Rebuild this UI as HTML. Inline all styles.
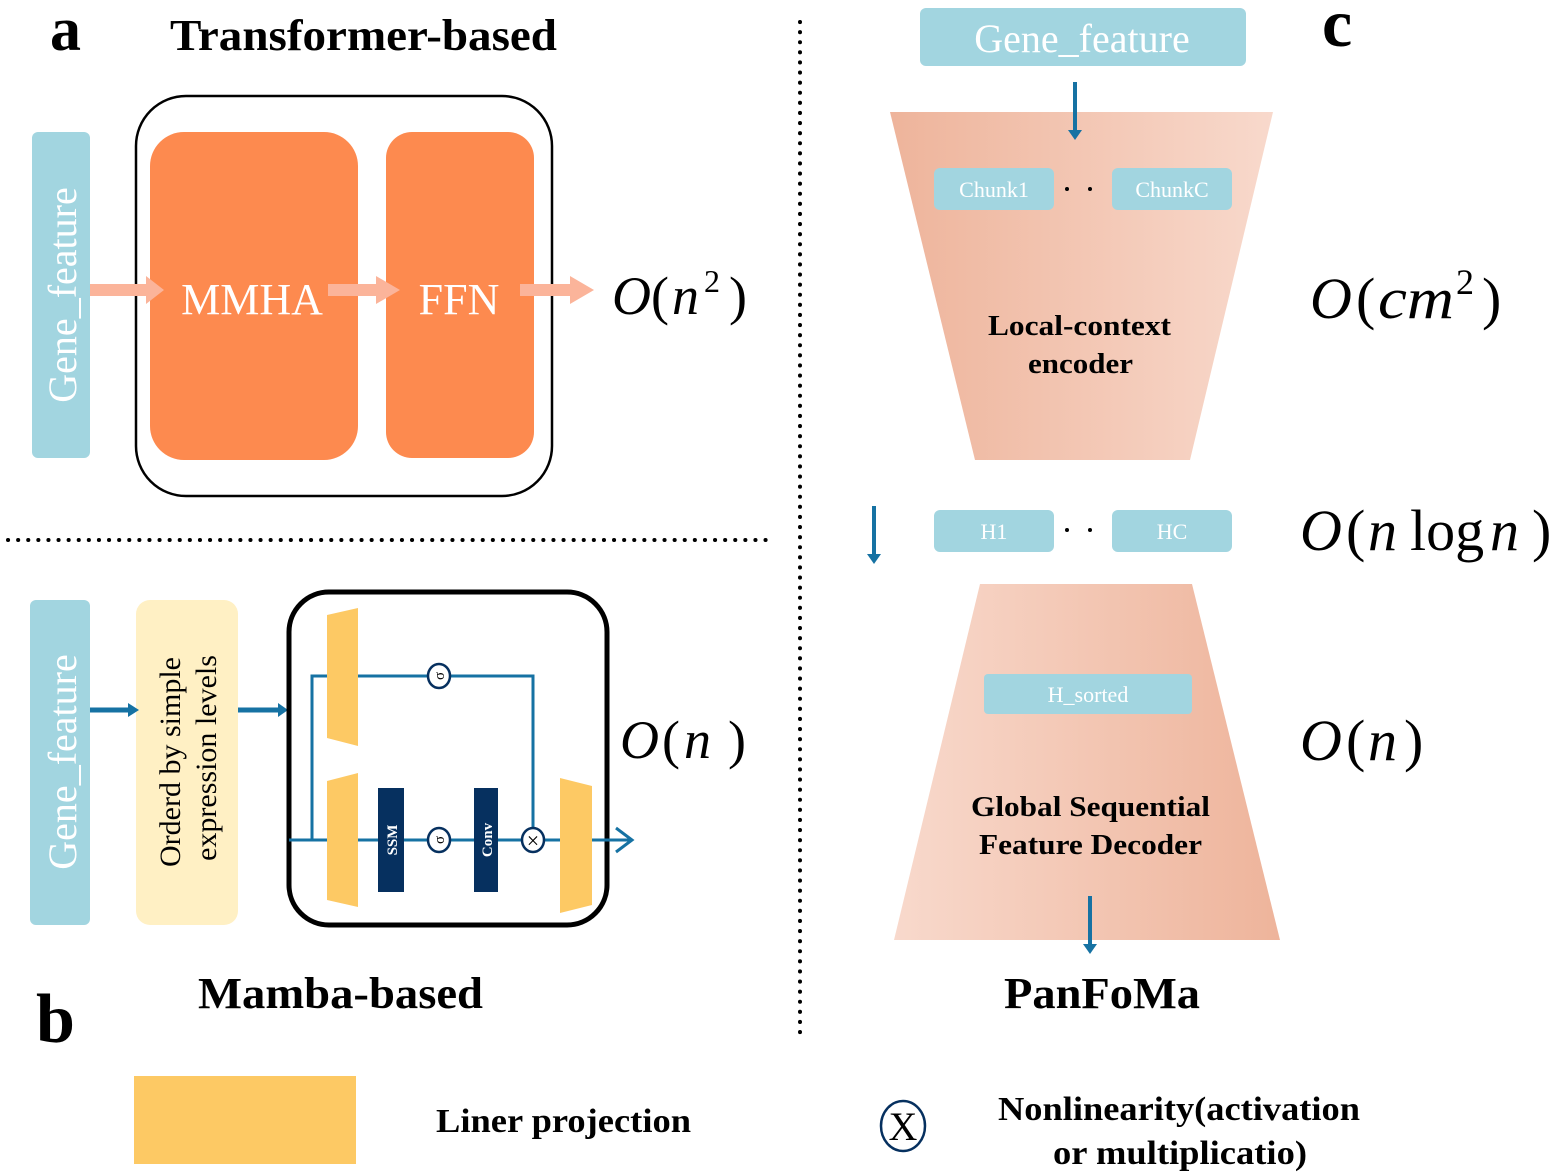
<!DOCTYPE html>
<html><head><meta charset="utf-8"><style>
html,body{margin:0;padding:0;background:#fff;width:1556px;height:1176px;overflow:hidden}
svg{display:block}
text{font-family:"Liberation Serif",serif}
</style></head><body>
<svg width="1556" height="1176" viewBox="0 0 1556 1176" xmlns="http://www.w3.org/2000/svg">
<defs>
<linearGradient id="enc" x1="0" x2="1" y1="0" y2="0"><stop offset="0" stop-color="#eeb49b"/><stop offset="1" stop-color="#f8d9cc"/></linearGradient>
<linearGradient id="dec" x1="0" x2="1" y1="0" y2="0"><stop offset="0" stop-color="#f8d9cc"/><stop offset="1" stop-color="#eeb49b"/></linearGradient>
</defs>
<line x1="800" y1="22" x2="800" y2="1035" stroke="#000" stroke-width="4" stroke-dasharray="0.1 10" stroke-linecap="round"/>
<line x1="8" y1="540" x2="770" y2="540" stroke="#000" stroke-width="4" stroke-dasharray="0.1 10" stroke-linecap="round"/>
<!-- a -->
<text x="50" y="50" font-size="62" font-weight="bold">a</text>
<text x="170" y="50" font-size="44" font-weight="bold" textLength="387" lengthAdjust="spacingAndGlyphs">Transformer-based</text>
<rect x="32" y="132" width="58" height="326" rx="6" fill="#a2d5e0"/>
<text transform="translate(76,295) rotate(-90)" font-size="40" fill="#fff" text-anchor="middle">Gene_feature</text>
<rect x="136" y="96" width="416" height="400" rx="50" fill="none" stroke="#000" stroke-width="2.5"/>
<rect x="150" y="132" width="208" height="328" rx="34" fill="#fd8a4f"/>
<rect x="386" y="132" width="148" height="326" rx="26" fill="#fd8a4f"/>
<text x="252" y="314" font-size="44" fill="#fff" text-anchor="middle">MMHA</text>
<text x="459" y="314" font-size="44" fill="#fff" text-anchor="middle">FFN</text>
<g fill="#fbb49a">
<rect x="90" y="284" width="58" height="12"/><polygon points="146,276 164,290 146,304"/>
<rect x="328" y="284" width="50" height="12"/><polygon points="376,276 400,290 376,304"/>
<rect x="520" y="284" width="52" height="12"/><polygon points="570,276 594,290 570,304"/>
</g>
<text x="612" y="314" font-size="54" font-style="italic">O</text><text x="651" y="314" font-size="54">(</text><text x="672" y="314" font-size="54" font-style="italic">n</text><text x="704" y="292" font-size="32">2</text><text x="729" y="314" font-size="54">)</text>
<!-- b -->
<rect x="30" y="600" width="60" height="325" rx="6" fill="#a2d5e0"/>
<text transform="translate(76,762) rotate(-90)" font-size="40" fill="#fff" text-anchor="middle">Gene_feature</text>
<rect x="136" y="600" width="102" height="325" rx="14" fill="#fff0c4"/>
<text transform="translate(180,762) rotate(-90)" font-size="30" text-anchor="middle">Orderd by simple</text>
<text transform="translate(216,758) rotate(-90)" font-size="30" text-anchor="middle">expression levels</text>
<g stroke="#1672a3" stroke-width="5"><line x1="90" y1="710" x2="130" y2="710"/><line x1="238" y1="710" x2="280" y2="710"/></g>
<g fill="#1672a3"><polygon points="128,703 139,710 128,717"/><polygon points="278,703 288,710 278,717"/></g>
<rect x="289" y="592" width="318" height="333" rx="40" fill="none" stroke="#000" stroke-width="5"/>
<g stroke="#1672a3" stroke-width="3" fill="none">
<line x1="289" y1="840" x2="630" y2="840"/>
<polyline points="312,840 312,676 533,676 533,840"/>
<polyline points="616,828 632,840 616,852"/>
</g>
<g fill="#fdc964">
<polygon points="327,615 358,608 358,746 327,738"/>
<polygon points="327,781 358,773 358,907 327,900"/>
<polygon points="560,778 592,786 592,905 560,913"/>
</g>
<rect x="378" y="788" width="26" height="104" fill="#06305f"/>
<rect x="474" y="788" width="24" height="104" fill="#06305f"/>
<text transform="translate(397,840) rotate(-90)" font-size="15" font-weight="bold" fill="#fff" text-anchor="middle">SSM</text>
<text transform="translate(492,840) rotate(-90)" font-size="15" font-weight="bold" fill="#fff" text-anchor="middle">Conv</text>
<g stroke="#06305f" stroke-width="2.5" fill="#fff">
<ellipse cx="439" cy="676" rx="11" ry="12"/><ellipse cx="439" cy="840" rx="11" ry="12"/><ellipse cx="533" cy="840" rx="11" ry="12"/>
</g>
<text transform="translate(444,676) rotate(-90)" font-size="15" text-anchor="middle">σ</text>
<text transform="translate(444,840) rotate(-90)" font-size="15" text-anchor="middle">σ</text>
<text x="533" y="848" font-size="22" text-anchor="middle">×</text>
<text x="620" y="758" font-size="54" font-style="italic">O</text><text x="662" y="758" font-size="54">(</text><text x="684" y="758" font-size="54" font-style="italic">n</text><text x="728" y="758" font-size="54">)</text>
<text x="36" y="1042" font-size="70" font-weight="bold">b</text>
<text x="198" y="1008" font-size="44" font-weight="bold" textLength="285" lengthAdjust="spacingAndGlyphs">Mamba-based</text>
<rect x="134" y="1076" width="222" height="88" fill="#fdc964"/>
<text x="436" y="1132" font-size="34" font-weight="bold" textLength="255" lengthAdjust="spacingAndGlyphs">Liner projection</text>
<!-- c -->
<text x="1322" y="46" font-size="68" font-weight="bold">c</text>
<rect x="920" y="8" width="326" height="58" rx="6" fill="#a2d5e0"/>
<text x="1082" y="52" font-size="40" fill="#fff" text-anchor="middle">Gene_feature</text>
<polygon points="890,112 1273,112 1190,460 975,460" fill="url(#enc)"/>
<line x1="1075" y1="82" x2="1075" y2="132" stroke="#1672a3" stroke-width="4"/><polygon points="1068,130 1082,130 1075,140" fill="#1672a3"/>
<rect x="934" y="168" width="120" height="42" rx="6" fill="#a2d5e0"/>
<rect x="1112" y="168" width="120" height="42" rx="6" fill="#a2d5e0"/>
<text x="994" y="197" font-size="22" fill="#fff" text-anchor="middle">Chunk1</text>
<text x="1172" y="197" font-size="22" fill="#fff" text-anchor="middle">ChunkC</text>
<circle cx="1067" cy="189" r="2" fill="#000"/><circle cx="1090" cy="189" r="2" fill="#000"/>
<text x="988" y="335" font-size="29" font-weight="bold" textLength="183" lengthAdjust="spacingAndGlyphs">Local-context</text>
<text x="1028" y="373" font-size="29" font-weight="bold" textLength="105" lengthAdjust="spacingAndGlyphs">encoder</text>
<text x="1310" y="318" font-size="58" font-style="italic">O</text><text x="1356" y="318" font-size="58">(</text><text x="1378" y="318" font-size="58" font-style="italic" textLength="76" lengthAdjust="spacingAndGlyphs">cm</text><text x="1456" y="294" font-size="36">2</text><text x="1482" y="318" font-size="58">)</text>
<line x1="874" y1="506" x2="874" y2="556" stroke="#1672a3" stroke-width="4"/><polygon points="867,554 881,554 874,564" fill="#1672a3"/>
<rect x="934" y="510" width="120" height="42" rx="6" fill="#a2d5e0"/>
<rect x="1112" y="510" width="120" height="42" rx="6" fill="#a2d5e0"/>
<text x="994" y="539" font-size="22" fill="#fff" text-anchor="middle">H1</text>
<text x="1172" y="539" font-size="22" fill="#fff" text-anchor="middle">HC</text>
<circle cx="1067" cy="530" r="2" fill="#000"/><circle cx="1090" cy="530" r="2" fill="#000"/>
<text x="1300" y="550" font-size="58" font-style="italic">O</text><text x="1346" y="550" font-size="58">(</text><text x="1368" y="550" font-size="58" font-style="italic">n</text><text x="1410" y="550" font-size="58">log</text><text x="1490" y="550" font-size="58" font-style="italic">n</text><text x="1532" y="550" font-size="58">)</text>
<polygon points="980,584 1192,584 1280,940 894,940" fill="url(#dec)"/>
<rect x="984" y="674" width="208" height="40" rx="4" fill="#a2d5e0"/>
<text x="1088" y="702" font-size="22" fill="#fff" text-anchor="middle">H_sorted</text>
<text x="971" y="816" font-size="29" font-weight="bold" textLength="239" lengthAdjust="spacingAndGlyphs">Global Sequential</text>
<text x="979" y="854" font-size="29" font-weight="bold" textLength="223" lengthAdjust="spacingAndGlyphs">Feature Decoder</text>
<line x1="1090" y1="896" x2="1090" y2="946" stroke="#1672a3" stroke-width="4"/><polygon points="1083,944 1097,944 1090,954" fill="#1672a3"/>
<text x="1300" y="760" font-size="58" font-style="italic">O</text><text x="1346" y="760" font-size="58">(</text><text x="1368" y="760" font-size="58" font-style="italic">n</text><text x="1404" y="760" font-size="58">)</text>
<text x="1004" y="1008" font-size="44" font-weight="bold" textLength="196" lengthAdjust="spacingAndGlyphs">PanFoMa</text>
<ellipse cx="903" cy="1126" rx="22" ry="25" fill="none" stroke="#06305f" stroke-width="2.5"/>
<text x="903" y="1140" font-size="40" text-anchor="middle">X</text>
<text x="998" y="1120" font-size="34" font-weight="bold" textLength="362" lengthAdjust="spacingAndGlyphs">Nonlinearity(activation</text>
<text x="1053" y="1164" font-size="34" font-weight="bold" textLength="254" lengthAdjust="spacingAndGlyphs">or multiplicatio)</text>
</svg>
</body></html>
